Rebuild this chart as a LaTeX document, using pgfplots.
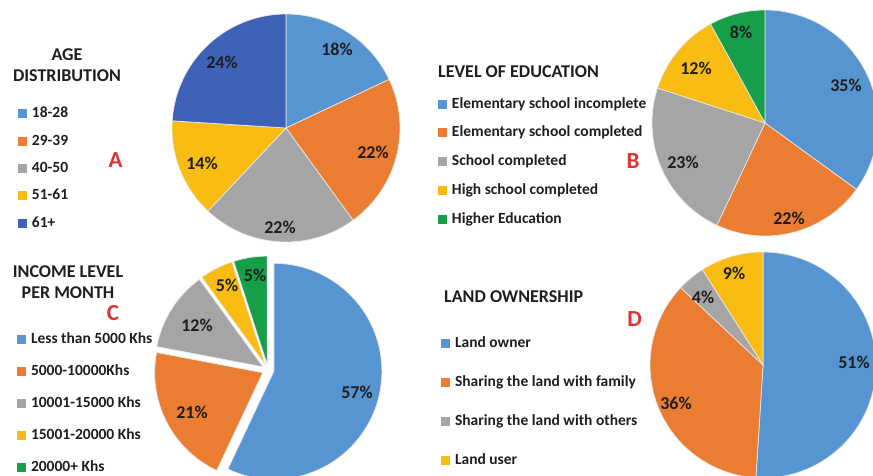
\documentclass[border=0pt]{standalone}
\usepackage{pgfplots}
\pgfplotsset{compat=1.18}
\usepackage{fontspec}
\setmainfont{Carlito}
\definecolor{cBlue}{RGB}{86,148,210}
\definecolor{cOrange}{RGB}{234,125,50}
\definecolor{cGray}{RGB}{165,165,165}
\definecolor{cYellow}{RGB}{248,188,18}
\definecolor{cDBlue}{RGB}{63,98,185}
\definecolor{cGreen}{RGB}{22,158,72}
\definecolor{cRed}{RGB}{224,50,46}
\definecolor{cText}{RGB}{30,30,30}
% #1 cx, #2 cy, #3 radius, #4 start percent, #5 percent, #6 colour, #7 legend text
\newcommand{\pieslice}[7]{%
  \addplot[fill=#6, draw=white!82!gray, line width=0.7pt, domain=90-3.6*(#4+#5):90-3.6*#4, samples=90, variable=\t]
    ({#1+#3*cos(\t)},{#2-#3*sin(\t)}) -- (axis cs:#1,#2) -- cycle;
  \addlegendentry{#7}
}
\pgfplotsset{pieax/.style={scale only axis, width=873pt, height=476pt,
  xmin=0, xmax=873, ymin=0, ymax=476, y dir=reverse, hide axis, clip=true,
  legend cell align=left,
  legend image code/.code={\fill[##1,draw=none] (0pt,-4.5pt) rectangle (9pt,4.5pt);},
  legend style={draw=none, fill=none, inner sep=0pt, outer sep=0pt, column sep=5pt,
    font=\fontsize{15.5}{18}\selectfont\bfseries\color{cText},
    nodes={inner sep=0pt, text height=11pt, text depth=3pt}}}}
\tikzset{
  lbl/.style={font=\fontsize{18}{18}\selectfont\bfseries, text=cText, inner sep=0pt},
  ttl/.style={font=\fontsize{18}{21}\selectfont\bfseries, text=cText, inner sep=0pt},
  letter/.style={font=\fontsize{23}{24}\selectfont\bfseries, text=cRed, inner sep=0pt}}
\begin{document}
\begin{tikzpicture}
\useasboundingbox (0,0) rectangle (873pt,476pt);
% ---------------- A: age distribution
\begin{axis}[pieax, legend style={at={(axis description cs:0.0206,0.7752)}, anchor=north west, row sep=13.3pt}]
\pieslice{286}{128}{114}{0}{18}{cBlue}{18-28}
\pieslice{286}{128}{114}{18}{22}{cOrange}{29-39}
\pieslice{286}{128}{114}{40}{22}{cGray}{40-50}
\pieslice{286}{128}{114}{62}{14}{cYellow}{51-61}
\pieslice{286}{128}{114}{76}{24}{cDBlue}{61+}
\node[lbl] at (axis cs:337,49) {18\%};
\node[lbl] at (axis cs:373,152) {22\%};
\node[lbl] at (axis cs:280,227) {22\%};
\node[lbl] at (axis cs:202,163) {14\%};
\node[lbl] at (axis cs:222,62) {24\%};
\node[ttl, align=center] at (axis cs:67,65.5) {AGE\\DISTRIBUTION};
\node[letter] at (axis cs:115.5,160.5) {A};
\end{axis}
% ---------------- B: level of education
\begin{axis}[pieax, legend style={at={(axis description cs:0.5017,0.7962)}, anchor=north west, row sep=14.8pt}]
\pieslice{765}{123}{113}{0}{35}{cBlue}{Elementary school incomplete}
\pieslice{765}{123}{113}{35}{22}{cOrange}{Elementary school completed}
\pieslice{765}{123}{113}{57}{23}{cGray}{School completed}
\pieslice{765}{123}{113}{80}{12}{cYellow}{High school completed}
\pieslice{765}{123}{113}{92}{8}{cGreen}{Higher Education}
\node[lbl] at (axis cs:846,85) {35\%};
\node[lbl] at (axis cs:789,218) {22\%};
\node[lbl] at (axis cs:683,162) {23\%};
\node[lbl] at (axis cs:696,68) {12\%};
\node[lbl] at (axis cs:741,32) {8\%};
\node[ttl, anchor=west] at (axis cs:438,72) {LEVEL OF EDUCATION};
\node[letter] at (axis cs:633,161.5) {B};
\end{axis}
% ---------------- C: income level (exploded)
\begin{axis}[pieax, legend style={at={(axis description cs:0.0195,0.3025)}, anchor=north west, row sep=18.2pt}]
\pieslice{273.9}{371.3}{108}{0}{57}{cBlue}{Less than 5000 Khs}
\pieslice{262.7}{372.7}{108}{57}{21}{cOrange}{5000-10000Khs}
\pieslice{262.9}{366.8}{108}{78}{12}{cGray}{10001-15000 Khs}
\pieslice{265.3}{364.7}{108}{90}{5}{cYellow}{15001-20000 Khs}
\pieslice{267.1}{364.1}{108}{95}{5}{cGreen}{20000+ Khs}
\node[lbl] at (axis cs:357,392) {57\%};
\node[lbl] at (axis cs:192,412) {21\%};
\node[lbl] at (axis cs:197,325) {12\%};
\node[lbl] at (axis cs:227,285) {5\%};
\node[lbl] at (axis cs:255,275) {5\%};
\node[ttl, align=center] at (axis cs:68,282) {INCOME LEVEL\\PER MONTH};
\node[letter] at (axis cs:113,313) {C};
\end{axis}
% ---------------- D: land ownership
\begin{axis}[pieax, legend style={at={(axis description cs:0.5052,0.2941)}, anchor=north west, row sep=25.3pt}]
\pieslice{763}{365}{113}{0}{51}{cBlue}{Land owner}
\pieslice{763}{365}{113}{51}{36}{cOrange}{Sharing the land with family}
\pieslice{763}{365}{113}{87}{4}{cGray}{Sharing the land with others}
\pieslice{763}{365}{113}{91}{9}{cYellow}{Land user}
\node[lbl] at (axis cs:854,362) {51\%};
\node[lbl] at (axis cs:676,403) {36\%};
\node[lbl] at (axis cs:703,297) {4\%};
\node[lbl] at (axis cs:734,273) {9\%};
\node[ttl, anchor=west] at (axis cs:444,297) {LAND OWNERSHIP};
\node[letter] at (axis cs:634.5,319.5) {D};
\end{axis}
\end{tikzpicture}
\end{document}
